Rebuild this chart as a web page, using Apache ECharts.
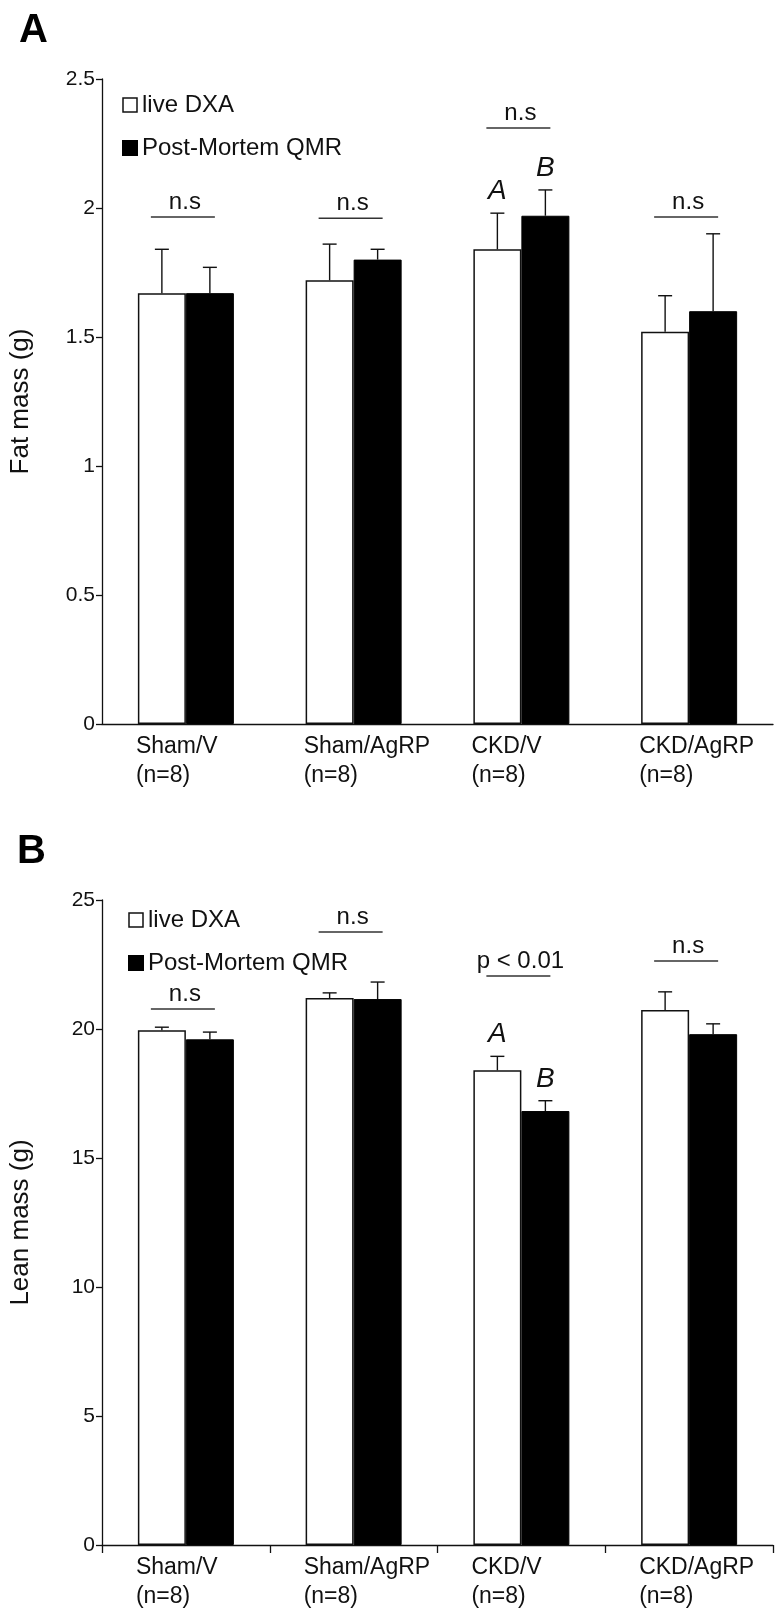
<!DOCTYPE html>
<html>
<head>
<meta charset="utf-8">
<script src="https://cdn.jsdelivr.net/npm/echarts@6/dist/echarts.min.js"></script>
<style>html,body{margin:0;padding:0;background:#fff}#c{width:777px;height:1617px}</style>
</head>
<body>
<div id="c"></div>
<script>
// ---- data ----
const categories = ['Sham/V', 'Sham/AgRP', 'CKD/V', 'CKD/AgRP'];
const groupN = [8, 8, 8, 8];
const seriesNames = ['live DXA', 'Post-Mortem QMR'];

const fatDXA = [1.67, 1.72, 1.84, 1.52];
const fatDXAErr = [0.17, 0.14, 0.14, 0.14];
const fatQMR = [1.67, 1.80, 1.97, 1.60];
const fatQMRErr = [0.10, 0.04, 0.10, 0.30];
const fatDXALetters = ['', '', 'A', ''];
const fatQMRLetters = ['', '', 'B', ''];
const fatSigText = ['n.s', 'n.s', 'n.s', 'n.s'];
const fatSigLevel = [1.965, 1.96, 2.31, 1.965];
const fatTicks = { min: 0, max: 2.5, interval: 0.5 };

const leanDXA = [19.95, 21.2, 18.4, 20.74];
const leanDXAErr = [0.12, 0.2, 0.54, 0.7];
const leanQMR = [19.6, 21.16, 16.82, 19.8];
const leanQMRErr = [0.28, 0.66, 0.4, 0.4];
const leanDXALetters = ['', '', 'A', ''];
const leanQMRLetters = ['', '', 'B', ''];
const leanSigText = ['n.s', 'n.s', 'p < 0.01', 'n.s'];
const leanSigLevel = [20.78, 23.76, 22.05, 22.64];
const leanTicks = { min: 0, max: 25, interval: 5 };

// ---- style ----
const FONT = 'Liberation Sans, Arial, sans-serif';
const BAR_W = 48;
const INK = '#111';

const chart = echarts.init(document.getElementById('c'), null, { renderer: 'canvas' });

function errRender(side, letters) {
  return function (params, api) {
    const c = api.value(0), v = api.value(1), e = api.value(2);
    const p0 = api.coord([c, v]);
    const p1 = api.coord([c, v + e]);
    const x = p0[0] + side * BAR_W / 2;
    const children = [
      { type: 'line', shape: { x1: x, y1: p0[1], x2: x, y2: p1[1] }, style: { stroke: INK, lineWidth: 1.4 } },
      { type: 'line', shape: { x1: x - 7, y1: p1[1], x2: x + 7, y2: p1[1] }, style: { stroke: INK, lineWidth: 1.4 } }
    ];
    const t = letters[params.dataIndex];
    if (t) {
      children.push({ type: 'text', style: { text: t, x: x, y: p1[1] - 22, align: 'center', verticalAlign: 'middle',
        fontSize: 28, fontStyle: 'italic', fontFamily: FONT, fill: INK } });
    }
    return { type: 'group', children };
  };
}

function sigRender(texts) {
  return function (params, api) {
    const c = api.value(0), v = api.value(1);
    const p = api.coord([c, v]);
    const x = p[0] - 3;
    return { type: 'group', children: [
      { type: 'line', shape: { x1: x - 32, y1: p[1], x2: x + 32, y2: p[1] }, style: { stroke: '#333', lineWidth: 1.5 } },
      { type: 'text', style: { text: texts[params.dataIndex], x: x + 2, y: p[1] - 15, align: 'center', verticalAlign: 'middle',
        fontSize: 24, fontFamily: FONT, fill: INK } }
    ] };
  };
}

function makePanel(idx, dxa, dxaErr, qmr, qmrErr, dxaL, qmrL, sigT, sigL) {
  return [
    { name: seriesNames[0], type: 'bar', xAxisIndex: idx, yAxisIndex: idx, data: dxa, barWidth: BAR_W, barGap: '0%',
      itemStyle: { color: '#fff', borderColor: INK, borderWidth: 1.5 }, z: 2 },
    { name: seriesNames[1], type: 'bar', xAxisIndex: idx, yAxisIndex: idx, data: qmr, barWidth: BAR_W, barGap: '0%',
      itemStyle: { color: '#000', borderColor: '#000', borderWidth: 1 }, z: 2 },
    { type: 'custom', xAxisIndex: idx, yAxisIndex: idx, renderItem: errRender(-1, dxaL), clip: false, z: 3,
      data: dxa.map((v, i) => [i, v, dxaErr[i]]) },
    { type: 'custom', xAxisIndex: idx, yAxisIndex: idx, renderItem: errRender(1, qmrL), clip: false, z: 3,
      data: qmr.map((v, i) => [i, v, qmrErr[i]]) },
    { type: 'custom', xAxisIndex: idx, yAxisIndex: idx, renderItem: sigRender(sigT), clip: false, z: 3,
      data: sigL.map((v, i) => [i, v]) }
  ];
}

function xAxis(idx, ticks) {
  return {
    type: 'category', gridIndex: idx, data: categories,
    axisLine: { lineStyle: { color: INK, width: 1.3 } },
    axisTick: { show: ticks, length: 8, lineStyle: { color: INK, width: 1.3 } },
    axisLabel: {
      interval: 0, margin: 8, color: INK,
      formatter: (v, i) => '{a|' + v + '}\n{a|(n=' + groupN[i] + ')}',
      rich: { a: { width: 100, align: 'left', fontSize: 23, lineHeight: 29, fontFamily: FONT, color: INK } }
    }
  };
}

function yAxis(idx, name, t) {
  return {
    type: 'value', gridIndex: idx, min: t.min, max: t.max, interval: t.interval,
    name: name, nameLocation: 'middle', nameGap: 68,
    nameTextStyle: { fontSize: 26, fontFamily: FONT, color: INK },
    axisLine: { show: true, lineStyle: { color: INK, width: 1.3 } },
    axisTick: { show: true, length: 6, lineStyle: { color: INK, width: 1.3 } },
    axisLabel: { fontSize: 21, fontFamily: FONT, color: INK, margin: 7 },
    splitLine: { show: false }
  };
}

function legend(left, top) {
  return {
    orient: 'vertical', left: left, top: top, itemWidth: 14, itemHeight: 14, itemGap: 19,
    icon: 'rect', selectedMode: false,
    textStyle: { fontSize: 24, fontFamily: FONT, color: INK, lineHeight: 23 },
    data: [
      { name: seriesNames[0], itemStyle: { color: '#fff', borderColor: INK, borderWidth: 1.5 } },
      { name: seriesNames[1], itemStyle: { color: '#000' } }
    ]
  };
}

chart.setOption({
  animation: false,
  backgroundColor: '#fff',
  title: [
    { text: 'A', left: 14, top: 6, textStyle: { fontSize: 40, fontWeight: 'bold', fontFamily: FONT, color: '#000' } },
    { text: 'B', left: 12, top: 827, textStyle: { fontSize: 40, fontWeight: 'bold', fontFamily: FONT, color: '#000' } }
  ],
  legend: [legend(117, 88), legend(123, 903)],
  grid: [
    { left: 102, top: 79, width: 671, height: 645 },
    { left: 102, top: 900, width: 671, height: 645 }
  ],
  xAxis: [xAxis(0, false), xAxis(1, true)],
  yAxis: [yAxis(0, 'Fat mass (g)', fatTicks), yAxis(1, 'Lean mass (g)', leanTicks)],
  series: [
    ...makePanel(0, fatDXA, fatDXAErr, fatQMR, fatQMRErr, fatDXALetters, fatQMRLetters, fatSigText, fatSigLevel),
    ...makePanel(1, leanDXA, leanDXAErr, leanQMR, leanQMRErr, leanDXALetters, leanQMRLetters, leanSigText, leanSigLevel)
  ]
});
</script>
</body>
</html>
